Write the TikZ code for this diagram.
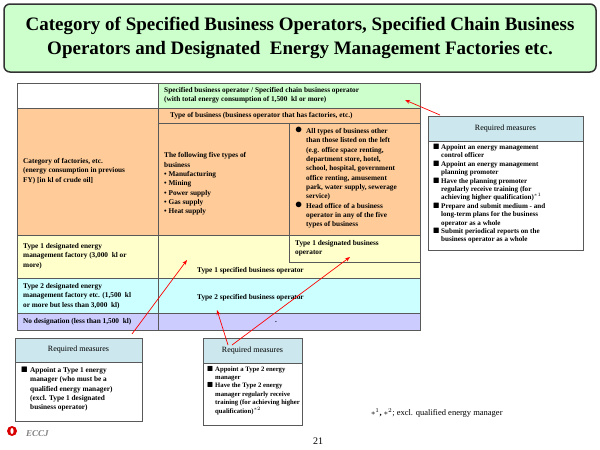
\documentclass[tikz,border=0pt]{standalone}
\usepackage{amssymb}
\usepackage{fontspec}
\setmainfont{Liberation Serif}[BoldFont={Liberation Serif Bold},ItalicFont={Liberation Serif Italic},BoldItalicFont={Liberation Serif Bold Italic}]
\usepackage{tikz}
\usetikzlibrary{arrows.meta}
\definecolor{titlegreen}{HTML}{CCFFCC}
\definecolor{hdrgreen}{HTML}{CCFFCC}
\definecolor{cellorange}{HTML}{FFCC99}
\definecolor{cellyellow}{HTML}{FFFFCC}
\definecolor{cellcyan}{HTML}{CCFFFF}
\definecolor{cellpurple}{HTML}{CCCCFF}
\definecolor{hdrblue}{HTML}{CCE8EE}
\tikzset{
  cell/.style={draw=gray!70!black, line width=0.5pt},
  txt/.style={font=\fontsize{7.3}{9.3}\selectfont\bfseries, align=left, anchor=west, inner sep=0pt},
  tight/.style={font=\fontsize{7.1}{8.4}\selectfont\bfseries},
  mhead/.style={font=\fontsize{8}{9}\selectfont, inner sep=0pt},
  redarrow/.style={draw=red, line width=0.7pt, -{Stealth[length=5pt]}}
}
\begin{document}
\begin{tikzpicture}[x=1pt,y=-1pt]
  \useasboundingbox (0,0) rectangle (600,450);
  % title
  \draw[fill=titlegreen, draw=black!80, line width=1.5pt, rounded corners=6pt] (4,4) rectangle (596,72);
  \node[font=\fontsize{19}{24}\selectfont\bfseries, align=center] (title) at (300,38)
    {Category of Specified Business Operators, Specified Chain Business\\Operators and Designated \ Energy Management Factories etc.};

  % table
  \draw[cell, fill=white] (17,83) rectangle (158,108);
  \draw[cell, fill=hdrgreen] (158,83) rectangle (420,108);
  \draw[cell, fill=cellorange] (17,108) rectangle (158,235);
  \draw[cell, fill=cellorange] (158,108) rectangle (420,123);
  \draw[cell, fill=cellorange] (158,123) rectangle (289,235);
  \draw[cell, fill=cellorange] (289,123) rectangle (420,235);
  \draw[cell, fill=cellyellow] (17,235) rectangle (158,278);
  \draw[cell, fill=cellyellow] (158,235) rectangle (420,278);
  \draw[cell] (289,235) rectangle (420,262);
  \draw[cell, fill=cellcyan] (17,278) rectangle (158,313);
  \draw[cell, fill=cellcyan] (158,278) rectangle (420,313);
  \draw[cell, fill=cellpurple] (17,313) rectangle (158,330);
  \draw[cell, fill=cellpurple] (158,313) rectangle (420,330);

  \node[txt] (hdr) at (164,95.5) {Specified business operator / Specified chain business operator\\(with total energy consumption of 1,500 \ kl or more)};
  \node[txt] (tob) at (170,116) {Type of business (business operator that has factories, etc.)};
  \node[txt] (cat) at (23,171) {Category of factories, etc.\\(energy consumption in previous\\FY) [in kl of crude oil]};
  \node[txt] (five) at (164,184) {The following five types of\\business\\• Manufacturing\\• Mining\\• Power supply\\• Gas supply\\• Heat supply};
  \node[txt, anchor=north west] (other) at (295,127) {\makebox[11pt][l]{\Large$\bullet$}All types of business other\\\hspace*{11pt}than those listed on the left\\\hspace*{11pt}(e.g. office space renting,\\\hspace*{11pt}department store, hotel,\\\hspace*{11pt}school, hospital, government\\\hspace*{11pt}office renting, amusement\\\hspace*{11pt}park, water supply, sewerage\\\hspace*{11pt}service)\\\makebox[11pt][l]{\Large$\bullet$}Head office of a business\\\hspace*{11pt}operator in any of the five\\\hspace*{11pt}types of business};
  \node[txt] (t1row) at (23,256) {Type 1 designated energy\\management factory (3,000 \ kl or\\more)};
  \node[txt] (t1bo) at (295,248) {Type 1 designated business\\operator};
  \node[txt] (t1so) at (197,271) {Type 1 specified business operator};
  \node[txt] (t2row) at (23,296) {Type 2 designated energy\\management factory etc. (1,500 \ kl\\or more but less than 3,000 \ kl)};
  \node[txt] (t2so) at (197,298) {Type 2 specified business operator};
  \node[txt] (nodes) at (23,321.5) {No designation (less than 1,500 \ kl)};
  \node[txt] (dot) at (275,322) {.};

  % required measures boxes
  \draw[cell, fill=white] (428,116) rectangle (583,250);
  \draw[cell, fill=hdrblue] (428,116) rectangle (583,141);
  \node[mhead] (rmA) at (505.5,129) {Required measures};
  \node[txt, tight, anchor=north west] (listA) at (433,144) {\makebox[8pt][l]{$\blacksquare$}Appoint an energy management\\\hspace*{8pt}control officer\\\makebox[8pt][l]{$\blacksquare$}Appoint an energy management\\\hspace*{8pt}planning promoter\\\makebox[8pt][l]{$\blacksquare$}Have the planning promoter\\\hspace*{8pt}regularly receive training (for\\\hspace*{8pt}achieving higher qualification)$^{*1}$\\\makebox[8pt][l]{$\blacksquare$}Prepare and submit medium - and\\\hspace*{8pt}long-term plans for the business\\\hspace*{8pt}operator as a whole\\\makebox[8pt][l]{$\blacksquare$}Submit periodical reports on the\\\hspace*{8pt}business operator as a whole};

  \draw[cell, fill=white] (15,338) rectangle (142,421);
  \draw[cell, fill=hdrblue] (15,338) rectangle (142,362);
  \node[mhead] (rmB) at (78.5,350) {Required measures};
  \node[txt, anchor=north west] (listB) at (21,367) {\makebox[9pt][l]{$\blacksquare$}Appoint a Type 1 energy\\\hspace*{9pt}manager (who must be a\\\hspace*{9pt}qualified energy manager)\\\hspace*{9pt}(excl. Type 1 designated\\\hspace*{9pt}business operator)};

  \draw[cell, fill=white] (203,338) rectangle (302,425);
  \draw[cell, fill=hdrblue] (203,338) rectangle (302,363);
  \node[mhead] (rmC) at (252.5,350.5) {Required measures};
  \node[txt, font=\fontsize{6.7}{8.4}\selectfont\bfseries, anchor=north west] (listC) at (207,366) {\makebox[8pt][l]{$\blacksquare$}Appoint a Type 2 energy\\\hspace*{8pt}manager\\\makebox[8pt][l]{$\blacksquare$}Have the Type 2 energy\\\hspace*{8pt}manager regularly receive\\\hspace*{8pt}training (for achieving higher\\\hspace*{8pt}qualification)$^{*2}$};

  % arrows
  \coordinate (aA) at (440,115);
  \coordinate (aB) at (132,334);
  \coordinate (aC) at (228,345);
  \coordinate (aD) at (232,345);
  \draw[redarrow] (aA) -- (405,100);
  \draw[redarrow] (aB) -- (187,260);
  \draw[redarrow] (aC) -- (217,310);
  \draw[redarrow] (aD) -- (350,257);

  % footnote, logo, page
  \node[font=\fontsize{8.5}{10}\selectfont, anchor=west, inner sep=0pt] (fn) at (371,413) {\textbf{$\ast^1$, $\ast^2$}; excl. qualified energy manager};
  \fill[red!85!black] (12,431) circle (5);
  \fill[white] (12,431) ellipse (1.6 and 3);
  \node[font=\fontsize{9}{10}\selectfont\bfseries\itshape, text=gray, anchor=west, inner sep=0pt] (logo) at (26,434) {ECCJ};
  \node[font=\fontsize{10}{11}\selectfont] (page) at (318,441) {21};
\end{tikzpicture}
\end{document}
